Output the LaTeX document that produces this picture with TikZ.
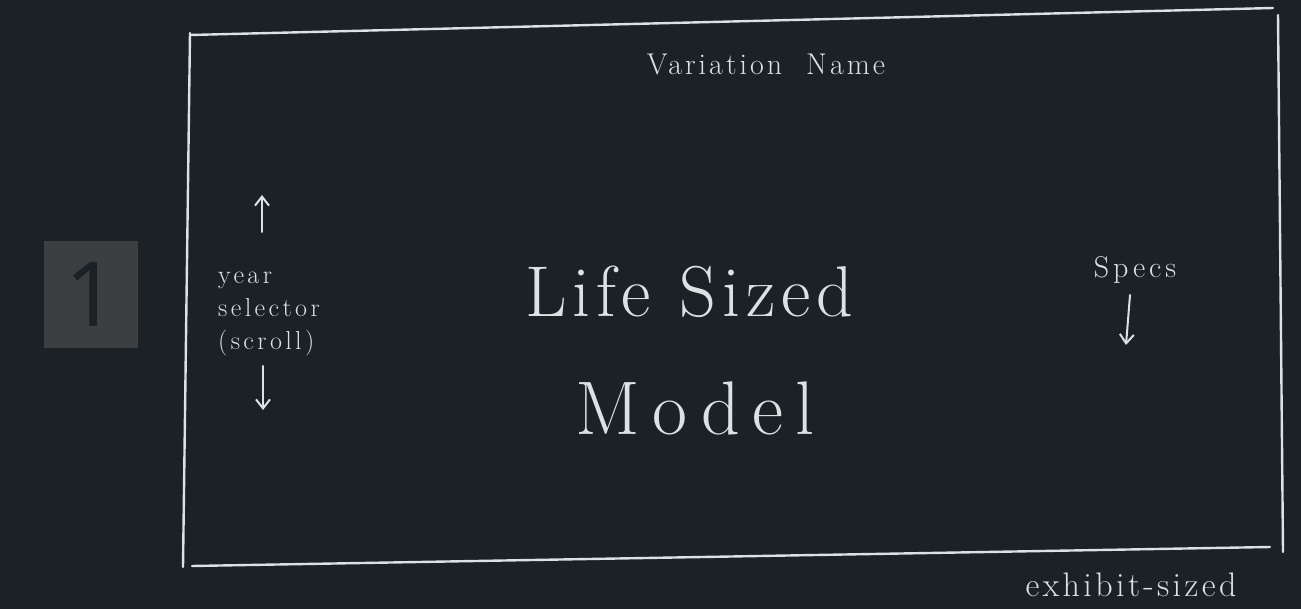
\documentclass[tikz,border=0pt]{standalone}
\usepackage{fontspec}
\newfontfamily\numfont{Noto Sans}
\newfontfamily\handfont{Latin Modern Roman}
\usetikzlibrary{arrows.meta}
\definecolor{bg}{HTML}{1B2125}
\definecolor{chalk}{HTML}{DCE1E4}
\definecolor{tile}{HTML}{3C3F41}
\tikzset{
  edge/.style={draw=chalk, line width=2.4pt, line cap=round},
  hand/.style={text=chalk, inner sep=0pt},
  pointer/.style={draw=chalk, line width=2pt, line cap=round, -{Straight Barb[length=9pt,width=14pt,line width=2pt]}}
}
\newcommand{\hf}[2]{\handfont\addfontfeatures{LetterSpace=#2}\fontsize{#1}{#1}\selectfont}
\begin{document}
\begin{tikzpicture}[x=1pt,y=-1pt]
\fill[bg] (0,0) rectangle (1301,609);
\useasboundingbox (0,0) rectangle (1301,609);
% number tile
\node[fill=tile, minimum width=94pt, minimum height=107pt, inner sep=0pt, anchor=north west] (tile) at (44,241) {};
\node[text=bg, font=\numfont\fontsize{90}{90}\selectfont, inner sep=0pt] (num) at (tile.center) {1};
% frame corners
\coordinate (tl) at (190,35);
\coordinate (tr) at (1273,8);
\coordinate (rt) at (1278,15);
\coordinate (rb) at (1283,552);
\coordinate (bl) at (192,566);
\coordinate (br) at (1270,547);
\coordinate (lt) at (190,33);
\coordinate (lb) at (183,567);
\draw[edge] (tl) -- (tr);
\draw[edge] (rt) -- (rb);
\draw[edge] (bl) -- (br);
\draw[edge] (lt) -- (lb);
% texts
\node[hand, font=\hf{30}{10}] (title) at (766,64) {Variation\hspace{0.8em}Name};
\node[hand, font=\hf{72}{8}] (life) at (689,292) {Life\hspace{0.4em}Sized};
\node[hand, font=\hf{76}{16}] (model) at (695,408) {Model};
\node[hand, font={\hf{26}{13}\baselineskip=33pt}, align=left, anchor=west] (year) at (218,314) {year\\selector\\(scroll)};
\node[hand, font=\hf{30}{13}] (specs) at (1135,270) {Specs};
\node[hand, font=\hf{34}{10}] (exhibit) at (1131,585) {exhibit-sized};
% arrows
\coordinate (upS) at (262,232);
\coordinate (upE) at (262,195);
\coordinate (dnS) at (263,366);
\coordinate (dnE) at (263,410);
\coordinate (spS) at (1130,295);
\coordinate (spE) at (1126,345);
\draw[pointer] (upS) -- (upE);
\draw[pointer] (dnS) -- (dnE);
\draw[pointer] (spS) -- (spE);
\end{tikzpicture}
\end{document}
